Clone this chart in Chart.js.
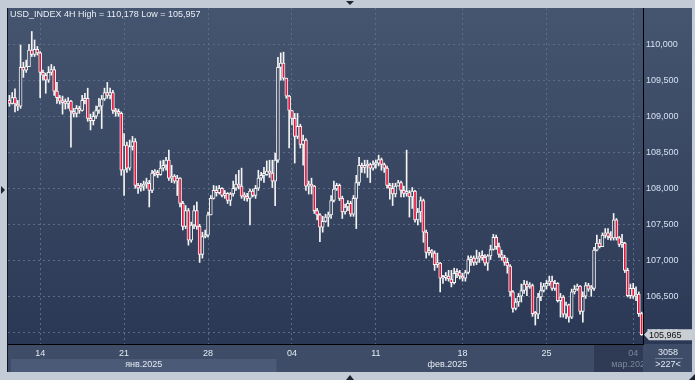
<!DOCTYPE html>
<html>
<head>
<meta charset="utf-8">
<script src="https://cdn.jsdelivr.net/npm/chart.js@4.4.1/dist/chart.umd.min.js"></script>
<style>
  html, body { margin: 0; padding: 0; background: #c3cbd7; }
  #wrap { width: 695px; height: 380px; }
</style>
</head>
<body>
<div id="wrap"><canvas id="chart" width="695" height="380"></canvas></div>
<script>
const symbol = "USD_INDEX";
const period = "4H";
const totalBars = 3058;

// 4H candles, 10 Jan - 4 Mar 2025
const opens = [109.22,
  109.18,109.26,109.17,109.14,109.68,109.64,109.69,109.92,109.86,109.93,
  109.88,109.61,109.57,109.50,109.61,109.65,109.35,109.26,109.21,109.19,
  109.18,109.21,109.07,109.04,109.11,109.08,109.22,109.25,108.97,108.94,
  109.00,109.08,109.14,109.24,109.33,109.29,109.33,109.08,109.06,109.04,
  108.25,108.60,108.28,108.58,108.65,108.04,108.00,108.03,108.06,108.07,
  107.97,108.21,108.22,108.19,108.28,108.32,108.39,108.14,108.17,108.10,
  108.14,107.79,107.47,107.69,107.28,107.49,107.69,107.47,107.08,107.33,
  107.35,107.63,107.86,107.97,107.94,108.00,107.90,107.93,107.83,107.92,
  108.00,108.06,108.03,107.89,107.88,107.86,107.96,107.90,108.00,108.14,
  108.18,108.19,108.24,108.21,108.10,108.39,109.68,109.74,109.53,109.28,
  109.08,108.97,108.72,108.86,108.61,108.67,108.03,108.06,108.03,107.69,
  107.63,107.46,107.54,107.60,107.63,107.83,107.99,108.04,107.86,107.67,
  107.74,107.79,107.64,107.86,108.08,108.32,108.29,108.31,108.33,108.28,
  108.33,108.35,108.40,108.33,108.28,108.04,108.00,107.92,108.03,108.08,
  107.97,107.93,107.94,107.88,107.96,107.56,107.67,107.83,107.39,107.11,
  107.13,107.10,106.94,106.96,106.75,106.76,106.78,106.74,106.69,106.82,
  106.83,106.78,106.75,106.83,107.01,107.03,106.97,107.03,107.05,107.04,
  106.96,107.06,107.15,107.32,107.19,107.08,107.04,106.97,106.92,106.56,
  106.33,106.42,106.50,106.58,106.67,106.63,106.65,106.26,106.25,106.49,
  106.58,106.64,106.68,106.71,106.61,106.68,106.44,106.49,106.25,106.38,
  106.21,106.56,106.60,106.64,106.29,106.50,106.65,106.60,106.61,107.14,
  107.24,107.19,107.35,107.38,107.33,107.31,107.56,107.31,107.22,107.24,
  106.86,106.51,106.61,106.50,106.53,106.26];

const highs = [
  109.29,109.33,109.38,109.22,109.99,109.75,109.78,110.00,110.178,110.06,
  109.97,109.90,109.64,109.60,109.69,109.72,109.69,109.47,109.29,109.28,
  109.24,109.26,109.22,109.11,109.15,109.14,109.29,109.32,109.39,109.03,
  109.06,109.14,109.25,109.29,109.39,109.47,109.39,109.36,109.11,109.10,
  109.06,108.76,108.64,108.67,108.72,108.69,108.07,108.07,108.10,108.14,
  108.11,108.25,108.26,108.25,108.38,108.39,108.43,108.53,108.32,108.19,
  108.18,108.15,107.82,107.76,107.72,107.53,107.76,107.81,107.50,107.39,
  107.42,107.67,107.90,108.04,108.03,108.04,108.01,107.97,107.94,107.94,
  108.10,108.19,108.25,108.28,107.94,107.93,107.99,107.99,108.04,108.25,
  108.22,108.29,108.38,108.39,108.39,108.49,109.82,109.88,109.89,109.53,
  109.29,109.08,109.04,109.04,108.89,108.74,108.69,108.10,108.14,108.04,
  107.72,107.65,107.61,107.64,107.67,107.90,108.10,108.07,108.06,107.89,
  107.78,107.83,107.82,107.90,108.18,108.43,108.35,108.39,108.39,108.35,
  108.38,108.39,108.46,108.42,108.35,108.31,108.07,108.07,108.07,108.11,
  108.10,108.03,108.53,107.97,108.01,107.97,107.72,107.88,107.85,107.42,
  107.18,107.15,107.13,107.10,106.97,106.79,106.83,106.86,106.86,106.89,
  106.88,106.86,106.82,106.86,107.06,107.06,107.06,107.14,107.11,107.13,
  107.08,107.08,107.21,107.36,107.35,107.24,107.14,107.07,107.03,106.94,
  106.58,106.47,106.54,106.67,106.72,106.71,106.69,106.67,106.29,106.54,
  106.69,106.68,106.72,106.78,106.78,106.72,106.69,106.54,106.51,106.42,
  106.39,106.60,106.65,106.67,106.65,106.56,106.69,106.68,106.65,107.18,
  107.35,107.29,107.38,107.44,107.44,107.40,107.65,107.58,107.33,107.36,
  107.25,106.89,106.67,106.68,106.63,106.56,106.28];

const lows = [
  109.14,109.17,109.06,109.08,109.11,109.54,109.61,109.69,109.83,109.83,
  109.85,109.26,109.50,109.32,109.47,109.57,109.29,109.18,109.17,109.03,
  109.10,109.11,108.57,108.99,108.99,109.04,109.07,109.17,108.93,108.81,
  108.88,108.97,109.04,108.83,109.22,109.25,109.24,109.04,109.00,109.00,
  108.18,107.90,108.22,108.25,108.53,108.00,107.93,107.96,107.97,108.00,
  107.74,107.94,108.17,108.15,108.18,108.24,108.25,108.11,108.08,108.07,
  107.90,107.74,107.42,107.44,107.21,107.25,107.44,107.43,106.97,107.03,
  107.31,107.32,107.63,107.85,107.89,107.92,107.88,107.86,107.79,107.76,
  107.89,107.97,107.99,107.86,107.83,107.82,107.49,107.88,107.86,107.97,
  108.11,108.08,108.18,108.15,108.01,107.76,108.36,109.50,109.50,109.25,
  108.56,108.88,108.35,108.69,108.56,108.32,107.97,107.92,107.92,107.65,
  107.56,107.26,107.39,107.53,107.47,107.58,107.81,107.97,107.83,107.58,
  107.64,107.69,107.61,107.61,107.44,108.04,108.22,108.21,108.15,108.08,
  108.25,108.28,108.31,108.25,108.22,108.00,107.85,107.76,107.88,108.03,
  107.88,107.88,107.89,107.60,107.72,107.53,107.49,107.53,107.25,107.03,
  107.07,107.04,106.86,106.90,106.56,106.68,106.72,106.71,106.63,106.67,
  106.76,106.74,106.71,106.71,106.81,106.93,106.93,106.94,106.97,107.00,
  106.93,106.86,107.01,107.14,107.15,107.04,107.00,106.93,106.82,106.50,
  106.28,106.31,106.36,106.42,106.54,106.51,106.61,106.22,106.10,106.19,
  106.44,106.56,106.60,106.65,106.58,106.58,106.42,106.21,106.21,106.19,
  106.14,106.19,106.53,106.58,106.25,106.14,106.47,106.57,106.50,106.58,
  107.13,107.17,107.19,107.31,107.29,107.28,107.28,107.28,107.19,107.18,
  106.83,106.49,106.47,106.47,106.44,106.22,105.957];

const closes = [
  109.18,109.26,109.17,109.14,109.68,109.64,109.69,109.92,109.86,109.93,
  109.88,109.61,109.57,109.50,109.61,109.65,109.35,109.26,109.21,109.19,
  109.18,109.21,109.07,109.04,109.11,109.08,109.22,109.25,108.97,108.94,
  109.00,109.08,109.14,109.24,109.33,109.29,109.33,109.08,109.06,109.04,
  108.25,108.60,108.28,108.58,108.65,108.04,108.00,108.03,108.06,108.07,
  107.97,108.21,108.22,108.19,108.28,108.32,108.39,108.14,108.17,108.10,
  108.14,107.79,107.47,107.69,107.28,107.49,107.69,107.47,107.08,107.33,
  107.35,107.63,107.86,107.97,107.94,108.00,107.90,107.93,107.83,107.92,
  108.00,108.06,108.03,107.89,107.88,107.86,107.96,107.90,108.00,108.14,
  108.18,108.19,108.24,108.21,108.10,108.39,109.68,109.74,109.53,109.28,
  109.08,108.97,108.72,108.86,108.61,108.67,108.03,108.06,108.03,107.69,
  107.63,107.46,107.54,107.60,107.63,107.83,107.99,108.04,107.86,107.67,
  107.74,107.79,107.64,107.86,108.08,108.32,108.29,108.31,108.33,108.28,
  108.33,108.35,108.40,108.33,108.28,108.04,108.00,107.92,108.03,108.08,
  107.97,107.93,107.94,107.88,107.96,107.56,107.67,107.83,107.39,107.11,
  107.13,107.10,106.94,106.96,106.75,106.76,106.78,106.74,106.69,106.82,
  106.83,106.78,106.75,106.83,107.01,107.03,106.97,107.03,107.05,107.04,
  106.96,107.06,107.15,107.32,107.19,107.08,107.04,106.97,106.92,106.56,
  106.33,106.42,106.50,106.58,106.67,106.63,106.65,106.26,106.25,106.49,
  106.58,106.64,106.68,106.71,106.61,106.68,106.44,106.49,106.25,106.38,
  106.21,106.56,106.60,106.64,106.29,106.50,106.65,106.60,106.61,107.14,
  107.24,107.19,107.35,107.38,107.33,107.31,107.56,107.31,107.22,107.24,
  106.86,106.51,106.61,106.50,106.53,106.26,105.965];

// day ticks on the time axis (bar index -> label)
const dayTickIndex = [11, 41, 71, 101, 131, 162, 192, 223];
const dayTickLabels = ["14", "21", "28", "04", "11", "18", "25", "04"];
const monthLabels = ["янв.2025", "фев.2025", "мар.2025"];
const monthStartIndex = [0, 96, 216];

const priceMin = 105.837;
const priceMax = 110.504;
const priceStep = 0.5;

const fmt = v => v.toFixed(3).replace(".", ",");
const FONT = "'Liberation Sans', Arial, sans-serif";

const labels = closes.map((c, i) => i);
const wicks = lows.map((l, i) => [l, highs[i]]);
const bodies = opens.map((o, i) => [Math.min(o, closes[i]), Math.max(o, closes[i])]);
const bodyFill = opens.map((o, i) => closes[i] < o ? "#e3163e" : "#34415c");

const lastIdx = closes.length - 1;

const decor = {
  id: "decor",
  beforeDraw(chart) {
    const { ctx, chartArea: a, scales: { x } } = chart;
    ctx.save();
    ctx.fillStyle = "#c3cbd7";
    ctx.fillRect(0, 0, chart.width, chart.height);
    // time axis strip
    ctx.fillStyle = "#3e4c67";
    ctx.fillRect(a.left, a.bottom, 692 - a.left, 372 - a.bottom);
    // chart + price scale background
    const g = ctx.createLinearGradient(0, a.top, 0, a.bottom);
    g.addColorStop(0, "#46556f");
    g.addColorStop(1, "#2b3855");
    ctx.fillStyle = g;
    ctx.fillRect(a.left, a.top, 692 - a.left, a.bottom - a.top);
    // january band
    const febX = (x.getPixelForValue(monthStartIndex[1] - 1) + x.getPixelForValue(monthStartIndex[1])) / 2;
    ctx.fillStyle = "#4b5a77";
    ctx.fillRect(a.left + 3, 359, febX - a.left - 3, 13);
    // shaded box under current date
    ctx.fillStyle = "#2f3b54";
    ctx.fillRect(594, a.bottom + 1, a.right - 594, 372 - a.bottom - 1);
    ctx.restore();
  },
  afterDraw(chart) {
    const { ctx, chartArea: a, scales: { x, y } } = chart;
    ctx.save();
    ctx.font = "9px " + FONT;
    ctx.textBaseline = "middle";

    // header
    ctx.fillStyle = "#e8edf5";
    ctx.textAlign = "left";
    ctx.fillText(`${symbol} ${period} High = ${fmt(Math.max(...highs))} Low = ${fmt(Math.min(...lows))}`, 10, 15);

    // month row
    const bx = monthStartIndex.map(i => i === 0 ? a.left + 3
      : (x.getPixelForValue(i - 1) + x.getPixelForValue(i)) / 2);
    ctx.fillStyle = "#e3e9f2";
    ctx.textAlign = "center";
    ctx.fillText(monthLabels[0], (bx[0] + bx[1]) / 2, 365);
    ctx.fillText(monthLabels[1], (bx[1] + bx[2]) / 2 + 3, 365);
    ctx.save();
    ctx.beginPath();
    ctx.rect(a.left, a.bottom, a.right - a.left, 30);
    ctx.clip();
    ctx.fillStyle = "#7a869b";
    ctx.textAlign = "left";
    ctx.fillText(monthLabels[2], bx[2] - 1, 365);
    ctx.restore();

    // last price tag
    const py = y.getPixelForValue(closes[lastIdx]);
    ctx.fillStyle = "#c9cdd4";
    ctx.beginPath();
    ctx.moveTo(a.right + 1, py);
    ctx.lineTo(a.right + 6, py - 5.5);
    ctx.lineTo(692, py - 5.5);
    ctx.lineTo(692, py + 5.5);
    ctx.lineTo(a.right + 6, py + 5.5);
    ctx.closePath();
    ctx.fill();
    ctx.fillStyle = "#111";
    ctx.textAlign = "left";
    ctx.fillText(fmt(closes[lastIdx]), a.right + 6, py + 0.5);

    // bar counter
    ctx.fillStyle = "#e3e9f2";
    ctx.textAlign = "center";
    ctx.fillText(String(totalBars), 668, 352.5);
    ctx.fillText(">" + closes.length + "<", 668, 365);
    ctx.strokeStyle = "#6e7c95";
    ctx.lineWidth = 1;
    ctx.beginPath();
    ctx.moveTo(655, 358.5);
    ctx.lineTo(683, 358.5);
    ctx.stroke();

    // frame
    ctx.strokeStyle = "#10151f";
    ctx.beginPath();
    ctx.moveTo(7.5, 8);
    ctx.lineTo(7.5, 372);
    ctx.stroke();

    // little markers on the frame
    ctx.fillStyle = "#1c2433";
    ctx.beginPath();
    ctx.moveTo(346, 1); ctx.lineTo(354, 1); ctx.lineTo(350, 5); ctx.closePath(); ctx.fill();
    ctx.beginPath();
    ctx.moveTo(346, 380); ctx.lineTo(354, 380); ctx.lineTo(350, 375); ctx.closePath(); ctx.fill();
    ctx.beginPath();
    ctx.moveTo(1, 186); ctx.lineTo(1, 194); ctx.lineTo(5, 190); ctx.closePath(); ctx.fill();
    ctx.beginPath();
    ctx.moveTo(695, 374); ctx.lineTo(695, 380); ctx.lineTo(689, 380); ctx.closePath(); ctx.fill();
    ctx.restore();
  }
};

new Chart(document.getElementById("chart"), {
  type: "bar",
  data: {
    labels: labels,
    datasets: [
      {
        label: "body",
        data: bodies,
        backgroundColor: bodyFill,
        borderColor: "#f4f4f4",
        borderWidth: 1,
        borderSkipped: false,
        barThickness: 3,
        minBarLength: 2,
        grouped: false,
        order: 0
      },
      {
        label: "wick",
        data: wicks,
        backgroundColor: "#f4f4f4",
        borderWidth: 0,
        barThickness: 1,
        grouped: false,
        order: 1
      }
    ]
  },
  options: {
    responsive: false,
    animation: false,
    devicePixelRatio: 1,
    layout: { padding: { left: 8, top: 8, right: 3, bottom: 8 } },
    plugins: { legend: { display: false }, tooltip: { enabled: false } },
    scales: {
      x: {
        type: "category",
        offset: true,
        grid: {
          offset: false,
          drawTicks: false,
          color: ctx => dayTickIndex.includes(ctx.index) ? "#5c6b86" : "rgba(0,0,0,0)"
        },
        border: { display: true, color: "#000", width: 1, dash: [2, 3] },
        ticks: {
          autoSkip: false,
          maxRotation: 0,
          padding: 4,
          font: { family: FONT, size: 9 },
          color: ctx => ctx.index === dayTickIndex[dayTickIndex.length - 1] ? "#7a869b" : "#e3e9f2",
          callback: (v, i) => {
            const k = dayTickIndex.indexOf(i);
            return k < 0 ? "" : dayTickLabels[k];
          }
        },
        afterFit: s => { s.height = 28; s.paddingLeft = 0; s.paddingRight = 0; }
      },
      y: {
        position: "right",
        min: priceMin,
        max: priceMax,
        grid: {
          drawTicks: false,
          color: ctx => ctx.tick && ctx.tick.value > 110.2 ? "rgba(0,0,0,0)" : "#5c6b86"
        },
        border: { display: true, color: "#000", width: 1, dash: [2, 3] },
        ticks: {
          stepSize: priceStep,
          includeBounds: false,
          padding: 3,
          font: { family: FONT, size: 9 },
          color: "#d6e0f0",
          callback: v => v > 110.2 ? "" : fmt(v)
        },
        afterFit: s => { s.width = 49; s.paddingTop = 0; s.paddingBottom = 0; }
      }
    }
  },
  plugins: [decor]
});
</script>
</body>
</html>
